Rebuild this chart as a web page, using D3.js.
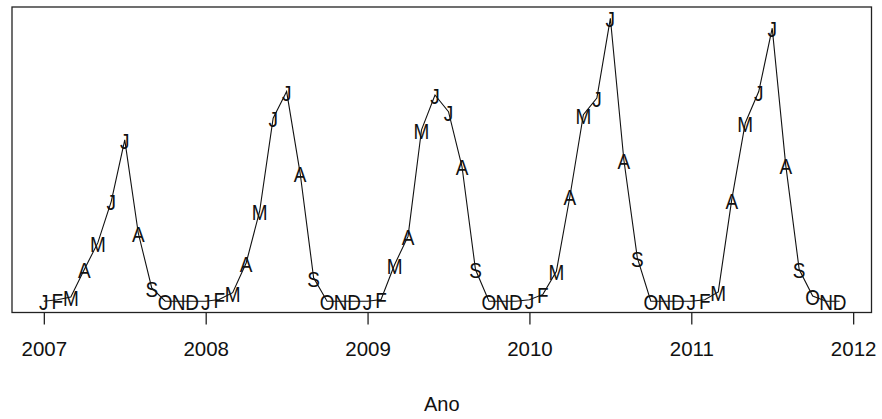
<!DOCTYPE html>
<html>
<head>
<meta charset="utf-8">
<script src="https://cdn.jsdelivr.net/npm/d3@7"></script>
<style>
  html, body { margin: 0; padding: 0; background: #fff; }
  svg { display: block; font-family: "Liberation Sans", Arial, sans-serif; }
</style>
</head>
<body>
<svg id="chart" width="882" height="419"></svg>
<script>
// Monthly series, January 2007 to December 2011
const years = [2007, 2008, 2009, 2010, 2011];
const monthLetters = ["J", "F", "M", "A", "M", "J", "J", "A", "S", "O", "N", "D"];
const values2007 = [0, 0.5, 1.5, 11.2, 20.6, 35.3, 57.0, 24.1, 4.7, 0, 0, 0];
const values2008 = [0, 0.6, 3.0, 13.5, 31.8, 64.7, 74.1, 45.3, 8.3, 0, 0, 0];
const values2009 = [0, 0.6, 12.9, 22.9, 60.6, 72.9, 67.0, 47.6, 11.2, 0, 0, 0];
const values2010 = [0.5, 2.4, 10.6, 37.0, 65.9, 71.8, 100.0, 50.0, 15.3, 0, 0, 0];
const values2011 = [0, 0.5, 3.3, 35.9, 63.0, 74.1, 96.5, 48.2, 11.2, 1.8, 0, 0];
const tickYears = [2007, 2008, 2009, 2010, 2011, 2012];
const xTitle = "Ano";

const seriesByYear = [values2007, values2008, values2009, values2010, values2011];
const data = [];
seriesByYear.forEach((vals, i) => {
  vals.forEach((v, m) => {
    data.push({ t: years[i] + m / 12, value: v, label: monthLetters[m] });
  });
});

const svg = d3.select("#chart");
const plot = { left: 12, right: 871.5, top: 7, bottom: 312.5 };

// R-style 4% padding around the data range
const tExt = d3.extent(data, d => d.t);
const vExt = d3.extent(data, d => d.value);
const tPad = (tExt[1] - tExt[0]) * 0.04;
const vPad = (vExt[1] - vExt[0]) * 0.04;

const x = d3.scaleLinear()
  .domain([tExt[0] - tPad, tExt[1] + tPad])
  .range([plot.left, plot.right]);
const y = d3.scaleLinear()
  .domain([vExt[0] - vPad, vExt[1] + vPad])
  .range([plot.bottom, plot.top]);

// series line
const line = d3.line().x(d => x(d.t)).y(d => y(d.value));
svg.append("path")
  .datum(data)
  .attr("fill", "none")
  .attr("stroke", "#111")
  .attr("stroke-width", 1.1)
  .attr("d", line);

// month letters at each point (slightly tall glyphs)
svg.append("g")
  .selectAll("text")
  .data(data)
  .join("text")
  .attr("transform", d => `translate(${x(d.t)},${y(d.value)}) scale(1,1.12)`)
  .attr("dy", "0.42em")
  .attr("text-anchor", "middle")
  .attr("font-size", 19)
  .attr("fill", "#111")
  .text(d => d.label);

// frame
svg.append("rect")
  .attr("x", plot.left)
  .attr("y", plot.top)
  .attr("width", plot.right - plot.left)
  .attr("height", plot.bottom - plot.top)
  .attr("fill", "none")
  .attr("stroke", "#222")
  .attr("stroke-width", 1.3);

// x axis
const xAxis = d3.axisBottom(x)
  .tickValues(tickYears)
  .tickFormat(d3.format("d"))
  .tickSize(12)
  .tickPadding(17);
const gx = svg.append("g")
  .attr("transform", `translate(0,${plot.bottom})`)
  .call(xAxis);
gx.select(".domain").remove();
gx.selectAll(".tick line").attr("stroke", "#222").attr("stroke-width", 1.3);
gx.selectAll(".tick text")
  .attr("font-size", 20.5)
  .attr("font-family", "Liberation Sans, Arial, sans-serif")
  .attr("fill", "#111");

// axis title
svg.append("text")
  .attr("x", (plot.left + plot.right) / 2)
  .attr("y", 411)
  .attr("text-anchor", "middle")
  .attr("font-size", 20)
  .attr("fill", "#111")
  .text(xTitle);
</script>
</body>
</html>
